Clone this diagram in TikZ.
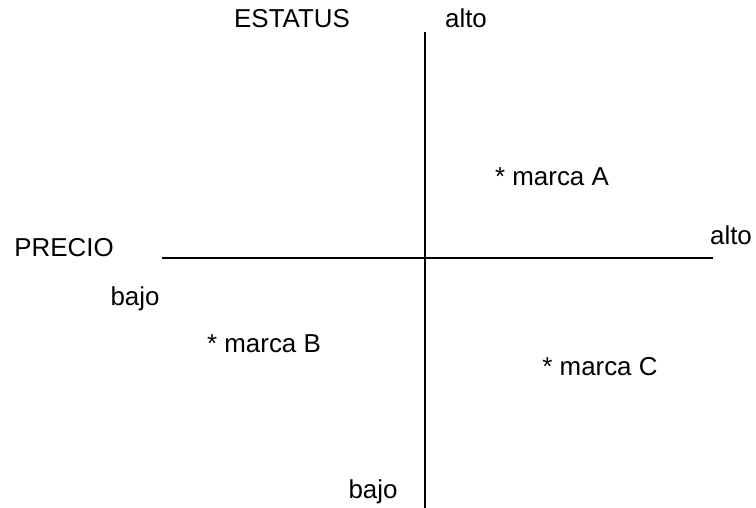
\documentclass[tikz,border=0pt]{standalone}
\usepackage{fontspec}
\setmainfont{Liberation Sans}
\usetikzlibrary{positioning}

\begin{document}
\begin{tikzpicture}[line join=bevel,every node/.style={font=\fontsize{26}{30}\selectfont,inner sep=0pt,anchor=base}]
%%
\useasboundingbox (0bp,0bp) rectangle (756bp,508bp);
  \coordinate (node_top) at (425bp,476bp);
  \coordinate (node_bot) at (425bp,0bp);
  \coordinate (node_left) at (162bp,250bp);
  \coordinate (node_right) at (713bp,250bp);
  \node (node_0) at (292bp,480bp) {ESTATUS};
  \node (node_1) at (466bp,480bp) {alto};
  \node (node_2) at (552bp,322bp) {* marca A};
  \node (node_3) at (64bp,251bp) {PRECIO};
  \node (node_4) at (731bp,263bp) {alto};
  \node (node_5) at (135bp,202bp) {bajo};
  \node (node_6) at (264bp,155bp) {* marca B};
  \node (node_7) at (600bp,132bp) {* marca C};
  \node (node_8) at (373bp,10bp) {bajo};
  \draw [black,line width=1.5pt] (node_top) -- (node_bot);
  \draw [black,line width=1.5pt] (node_left) -- (node_right);
%
\end{tikzpicture}
\end{document}
